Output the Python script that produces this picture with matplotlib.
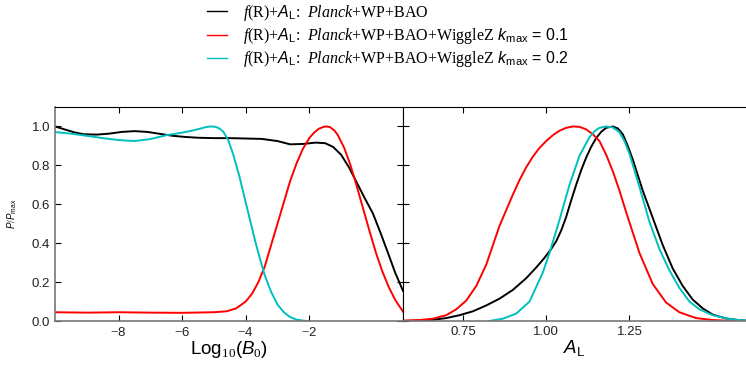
import matplotlib
matplotlib.use("Agg")
import matplotlib.pyplot as plt

plt.rcParams['font.family'] = ['Liberation Sans', 'DejaVu Sans']
plt.rcParams['mathtext.fontset'] = 'custom'
plt.rcParams['mathtext.rm'] = 'Liberation Serif'
plt.rcParams['mathtext.it'] = 'Liberation Sans:italic'
plt.rcParams['mathtext.bf'] = 'Liberation Serif:italic'
plt.rcParams['mathtext.sf'] = 'Liberation Sans'

# ---- data: left panel, Log10(B0) ----
b0_black_x = [-10.0, -9.7, -9.4, -9.1, -8.7, -8.3, -7.9, -7.5, -7.1, -6.7, -6.3, -5.9, -5.5, -5.0, -4.5,
              -4.0, -3.5, -3.0, -2.6, -2.2, -1.8, -1.5, -1.25, -1.0, -0.75, -0.5, -0.25, 0.0, 0.25, 0.5, 0.7, 0.95]
b0_black_y = [1.0, 0.985, 0.97, 0.96, 0.958, 0.963, 0.972, 0.976, 0.972, 0.962, 0.952, 0.946, 0.942, 0.94, 0.94,
              0.938, 0.936, 0.925, 0.908, 0.91, 0.917, 0.914, 0.895, 0.855, 0.79, 0.71, 0.63, 0.554, 0.45, 0.34, 0.25, 0.155]

b0_red_x = [-10, -9, -8, -7, -6, -5.0, -4.6, -4.3, -4.0, -3.8, -3.6, -3.4, -3.2, -3.0, -2.8, -2.6, -2.4, -2.2,
            -2.0, -1.85, -1.7, -1.55, -1.45, -1.35, -1.2, -1.1, -0.9, -0.7, -0.5, -0.3, -0.1, 0.1, 0.3, 0.5, 0.7, 0.95]
b0_red_y = [0.045, 0.043, 0.045, 0.043, 0.042, 0.045, 0.05, 0.065, 0.1, 0.14, 0.2, 0.28, 0.39, 0.5, 0.61, 0.72,
            0.81, 0.885, 0.94, 0.968, 0.988, 0.998, 1.0, 0.997, 0.978, 0.955, 0.89, 0.8, 0.69, 0.575, 0.46, 0.35,
            0.255, 0.175, 0.11, 0.048]

b0_cyan_x = [-10, -9.5, -9, -8.5, -8, -7.5, -7.0, -6.5, -6.0, -5.7, -5.4, -5.25, -5.1, -4.95, -4.83, -4.7, -4.55,
             -4.4, -4.2, -4.0, -3.85, -3.7, -3.55, -3.4, -3.2, -3.0, -2.8, -2.6, -2.4, -2.2, -2.05]
b0_cyan_y = [0.971, 0.963, 0.952, 0.94, 0.93, 0.925, 0.935, 0.955, 0.968, 0.978, 0.99, 0.997, 1.0, 0.998, 0.99,
             0.972, 0.93, 0.86, 0.745, 0.61, 0.51, 0.41, 0.32, 0.235, 0.15, 0.085, 0.045, 0.02, 0.007, 0.002, 0.0]

# ---- data: right panel, A_L ----
al_black_x = [0.57, 0.62, 0.66, 0.70, 0.74, 0.78, 0.82, 0.86, 0.90, 0.94, 0.97, 0.995, 1.015, 1.03, 1.045, 1.06,
              1.075, 1.09, 1.105, 1.12, 1.135, 1.15, 1.165, 1.18, 1.20, 1.215, 1.23, 1.245, 1.26, 1.29, 1.32,
              1.35, 1.38, 1.41, 1.44, 1.47, 1.50, 1.54, 1.58, 1.60]
al_black_y = [0.0, 0.002, 0.006, 0.015, 0.03, 0.05, 0.08, 0.115, 0.16, 0.22, 0.275, 0.325, 0.37, 0.41, 0.465, 0.535,
              0.62, 0.7, 0.775, 0.84, 0.895, 0.94, 0.972, 0.993, 1.0, 0.99, 0.96, 0.9, 0.83, 0.67, 0.53,
              0.39, 0.27, 0.18, 0.11, 0.065, 0.033, 0.013, 0.004, 0.002]

al_red_x = [0.57, 0.62, 0.66, 0.70, 0.73, 0.76, 0.79, 0.82, 0.86, 0.88, 0.90, 0.92, 0.94, 0.96, 0.98, 1.00, 1.02,
            1.04, 1.06, 1.08, 1.10, 1.12, 1.14, 1.16, 1.18, 1.20, 1.22, 1.24, 1.26, 1.28, 1.32, 1.36, 1.40,
            1.45, 1.50, 1.55, 1.60]
al_red_y = [0.002, 0.005, 0.012, 0.03, 0.06, 0.105, 0.18, 0.29, 0.49, 0.57, 0.65, 0.725, 0.79, 0.845, 0.89, 0.925,
            0.955, 0.978, 0.993, 1.0, 0.998, 0.985, 0.96, 0.925, 0.855, 0.77, 0.67, 0.56, 0.455, 0.35, 0.19,
            0.095, 0.045, 0.015, 0.005, 0.001, 0.0]

al_cyan_x = [0.83, 0.87, 0.91, 0.95, 0.99, 1.01, 1.04, 1.07, 1.10, 1.13, 1.145, 1.16, 1.18, 1.20, 1.22, 1.235,
             1.25, 1.28, 1.31, 1.34, 1.37, 1.40, 1.43, 1.46, 1.50, 1.55, 1.60]
al_cyan_y = [0.0, 0.012, 0.038, 0.1, 0.25, 0.35, 0.52, 0.70, 0.85, 0.945, 0.975, 0.993, 1.0, 0.995, 0.97, 0.925,
             0.86, 0.69, 0.51, 0.37, 0.26, 0.17, 0.1, 0.06, 0.03, 0.01, 0.002]

labels = [
    r"$\mathbf{f}(\mathrm{R}){+}A_{\mathsf{L}}\!:\ \mathbf{Planck}\mathrm{{+}WP{+}BAO}$",
    r"$\mathbf{f}(\mathrm{R}){+}A_{\mathsf{L}}\!:\ \mathbf{Planck}\mathrm{{+}WP{+}BAO{+}WiggleZ}\ k_{\mathsf{max}}$ = 0.1",
    r"$\mathbf{f}(\mathrm{R}){+}A_{\mathsf{L}}\!:\ \mathbf{Planck}\mathrm{{+}WP{+}BAO{+}WiggleZ}\ k_{\mathsf{max}}$ = 0.2",
]
colors = ['black', '#ff0000', '#00bfbf']

b0_ticks = [-8, -6, -4, -2]
al_ticks = [0.75, 1.00, 1.25]
al_ticklabels = ['0.75', '1.00', '1.25']
y_ticks = [0.0, 0.2, 0.4, 0.6, 0.8, 1.0]

fig = plt.figure(figsize=(7.46, 3.69), dpi=100)
W, H = 746, 369
ax1 = fig.add_axes([55 / W, (H - 321) / H, (403 - 55) / W, (321 - 107) / H])
ax2 = fig.add_axes([403 / W, (H - 321) / H, (746 - 403) / W, (321 - 107) / H])

lw = 1.4
lines = []
for x, y, c in [(b0_black_x, b0_black_y, colors[0]), (b0_red_x, b0_red_y, colors[1]), (b0_cyan_x, b0_cyan_y, colors[2])]:
    l, = ax1.plot(x, y, color=c, lw=lw)
    lines.append(l)
for x, y, c in [(al_black_x, al_black_y, colors[0]), (al_red_x, al_red_y, colors[1]), (al_cyan_x, al_cyan_y, colors[2])]:
    ax2.plot(x, y, color=c, lw=lw)

ax1.set_xlim(-10, 0.95)
ax2.set_xlim(0.57, 1.6)
for ax in (ax1, ax2):
    ax.set_ylim(0, 1.1)
    ax.set_yticks(y_ticks)
    ax.tick_params(direction='in', length=4, width=0.8, labelsize=9.5, colors='black', labelcolor='#222222')
    ax.spines['top'].set_color('black')
    ax.spines['bottom'].set_color('#777777')
    ax.spines['bottom'].set_linewidth(1.2)

ax1.set_xticks(b0_ticks)
ax1.set_xticklabels([r'$-$8', r'$-$6', r'$-$4', r'$-$2'])
ax1.tick_params(top=True, right=True)
ax1.spines['left'].set_color('#777777')
ax1.spines['left'].set_linewidth(1.2)
ax1.spines['right'].set_color('black')
ax1.set_xlabel(r"Log$_{10}$($B_0$)", fontsize=13.5, labelpad=0)
ax1.set_ylabel(r"$P/P_{\mathsf{max}}$", fontsize=7, labelpad=9)

ax2.set_xticks(al_ticks)
ax2.set_xticklabels(al_ticklabels)
ax2.tick_params(top=True, right=False, labelleft=False)
ax2.spines['right'].set_visible(False)
ax2.set_xlabel(r"$A_{\mathsf{L}}$", fontsize=13.5, labelpad=0)

leg = fig.legend(lines, labels, loc='upper left', bbox_to_anchor=(207 / W, 1 - 3 / H),
                 frameon=False, fontsize=11.5, handlelength=1.25, handletextpad=1.0, labelspacing=0.2,
                 borderaxespad=0, borderpad=0)
for h in leg.get_lines():
    h.set_linewidth(1.0)

fig.savefig('out.png', dpi=100)
